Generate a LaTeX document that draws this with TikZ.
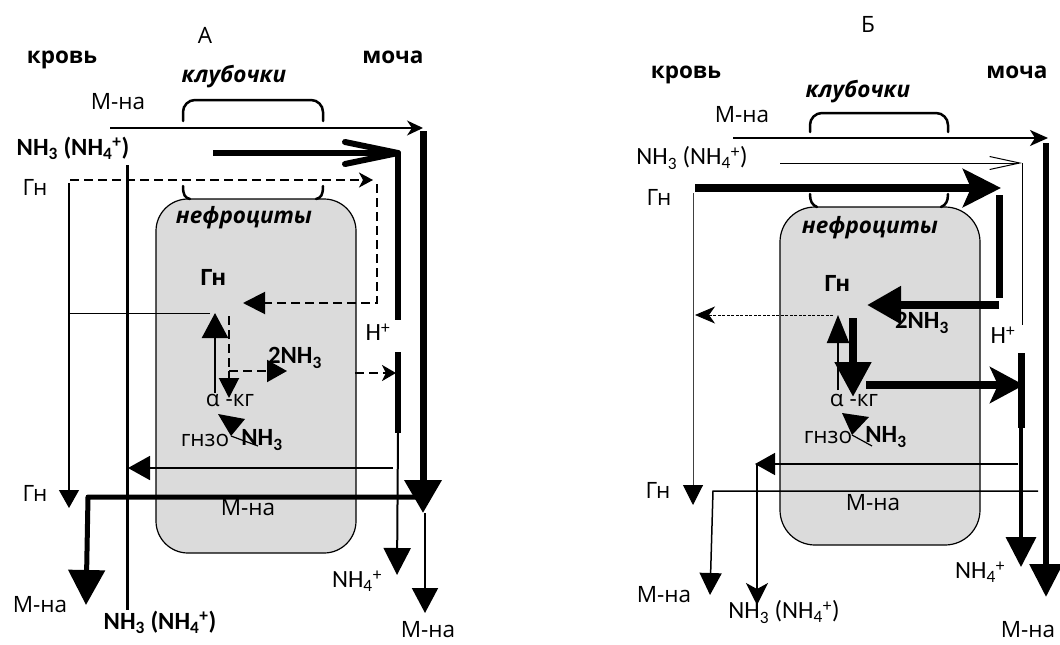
\documentclass[tikz,border=0pt]{standalone}
\usepackage{fontspec}
\setmainfont{Open Sans}
\newfontfamily\nhf[Scale=1.1]{Carlito}
\usetikzlibrary{arrows.meta}
\newcommand{\NHt}{{\nhf NH\textsubscript{3}}}
\newcommand{\NHf}{{\nhf NH\textsubscript{4}\textsuperscript{+}}}
\newcommand{\nhlabel}{{\nhf NH\textsubscript{3} (NH\textsubscript{4}\textsuperscript{+})}}
\begin{document}
\begin{tikzpicture}[x=1pt,y=-1pt,
  lbl/.style={inner sep=0pt, font=\fontsize{22.5}{26}\selectfont},
  blbl/.style={inner sep=0pt, font=\fontsize{22.5}{26}\selectfont\bfseries},
  bilbl/.style={inner sep=0pt, font=\fontsize{22.5}{26}\selectfont\bfseries\itshape},
  cell/.style={draw, line width=1.2pt, fill=black!14, rounded corners=32pt},
  brk/.style={line width=2.5pt, line cap=round},
  dsh/.style={dash pattern=on 9pt off 5pt, line width=2pt},
]
\useasboundingbox (0,0) rectangle (1060,645);
% ================= A =================
\node[cell, minimum width=200pt, minimum height=354pt] (boxA) at (256,376) {};
\draw[brk, rounded corners=12pt] (183,121) -- (183,100) -- (323,100) -- (323,121);
\draw[brk] (183,186) .. controls (183,195) and (185,198) .. (190,199);
\draw[brk] (323,186) .. controls (323,195) and (321,198) .. (316,199);
\node[lbl] (A) at (205,35) {А};
\node[blbl] (krovA) at (62,60) {кровь};
\node[blbl] (mochaA) at (393,57) {моча};
\node[bilbl] (klubA) at (234,77) {клубочки};
\node[lbl] (mnaA1) at (118,102) {М-на};
\node[blbl] (nhA1) at (73,148) {\nhlabel};
\node[lbl] (gnA1) at (35,187) {Гн};
\node[bilbl] (nefA) at (244,218) {нефроциты};
\node[blbl] (gnA2) at (213,277) {Гн};
\node[lbl] (hA) at (378,332) {{\nhf H\textsuperscript{+}}};
\node[blbl] (nh2A) at (295,358) {{\nhf 2NH\textsubscript{3}}};
\node[lbl] (akgA) at (230,400) {α -кг};
\node[lbl] (gnzoA) at (205,440) {гнзо};
\node[blbl] (nh3A) at (262,440) {\NHt};
\node[lbl] (gnA3) at (35,493) {Гн};
\node[lbl] (mnaA2) at (248,508) {М-на};
\node[lbl] (nh4A) at (357,581) {\NHf};
\node[lbl] (mnaA3) at (40,605) {М-на};
\node[blbl] (nhA2) at (160,622) {\nhlabel};
\node[lbl] (mnaA4) at (428,630) {М-на};
% coordinates A
\coordinate (a1) at (110,128); \coordinate (a2) at (423,128);
\coordinate (a3) at (423,131); \coordinate (a4) at (423,513);
\coordinate (a5) at (425,513); \coordinate (a6) at (425,613);
\coordinate (a7) at (425,497); \coordinate (a8) at (88,497); \coordinate (a9) at (86,605);
\coordinate (b1) at (213,153); \coordinate (b2) at (398,153); \coordinate (b3) at (398,320);
\coordinate (b4) at (398,352); \coordinate (b5) at (398,433); \coordinate (b6) at (397,575);
\coordinate (b7) at (393,468); \coordinate (b8) at (128,468);
\coordinate (c1) at (127,165); \coordinate (c2) at (127,610);
\coordinate (d1) at (70,180); \coordinate (d2) at (373,180);
\coordinate (d3) at (377,184); \coordinate (d4) at (377,303); \coordinate (d5) at (243,303);
\coordinate (e1) at (69,183); \coordinate (e2) at (69,508);
\coordinate (e3) at (70,313); \coordinate (e4) at (210,313);
\coordinate (f1) at (215,393); \coordinate (f2) at (215,313);
\coordinate (g1) at (229,316); \coordinate (g2) at (229,371); \coordinate (g3) at (287,371); \coordinate (g4) at (229,398);
\coordinate (h1) at (355,373); \coordinate (h2) at (396,373);
\coordinate (t1) at (218,414); \coordinate (t2) at (245,419); \coordinate (t3) at (231,436); \coordinate (t4) at (258,446);
% arrows A
\draw[line width=1.8pt, -{Stealth[length=16pt,width=15pt,inset=5pt]}] (a1) -- (a2);
\draw[line width=7pt, -{Triangle[length=33pt,width=36pt]}] (a3) -- (a4);
\draw[line width=2pt, -{Triangle[length=25pt,width=26pt]}] (a5) -- (a6);
\draw[line width=5pt, line join=round, -{Triangle[length=35pt,width=36pt]}] (a7) -- (a8) -- (a9);
\draw[line width=6pt, line join=round] (b1) -- (b2) -- (b3);
\draw[line width=6pt, line cap=round, line join=round] (345,142) -- (b2) -- (345,164);
\draw[line width=6pt] (b4) -- (b5);
\draw[line width=2pt, -{Triangle[length=27pt,width=27pt]}] (b5) -- (b6);
\draw[line width=1.8pt, -{Triangle[length=22pt,width=24pt]}] (b7) -- (b8);
\draw[line width=3pt] (c1) -- (c2);
\draw[dsh, -{Stealth[length=14pt,width=15pt,inset=4pt]}] (d1) -- (d2);
\draw[dsh, -{Triangle[length=22pt,width=22pt]}] (d3) -- (d4) -- (d5);
\draw[line width=1.2pt, -{Triangle[length=18pt,width=20pt]}] (e1) -- (e2);
\draw[line width=1pt] (e3) -- (e4);
\draw[line width=2.5pt, -{Triangle[length=25pt,width=26pt]}] (f1) -- (f2);
\draw[dsh] (g1) -- (g2);
\draw[dsh, -{Triangle[length=20pt,width=22pt]}] (g2) -- (g3);
\draw[dsh, -{Triangle[length=20pt,width=20pt]}] (g2) -- (g4);
\draw[dsh, line width=2.5pt, -{Stealth[length=14pt,width=16pt,inset=4pt]}] (h1) -- (h2);
\fill (t1) -- (t2) -- (t3) -- cycle;
\draw[line width=1.2pt] (t3) -- (t4);
% ================= Б =================
\node[cell, minimum width=200pt, minimum height=338pt, rounded corners=35pt] (boxB) at (880,376) {};
\draw[brk, rounded corners=12pt] (810,132) -- (810,113) -- (948,113) -- (948,132);
\draw[brk] (810,194) .. controls (810,201) and (812,205) .. (817,207);
\draw[brk] (948,194) .. controls (948,201) and (946,205) .. (941,207);
\node[lbl] (B) at (868,24) {Б};
\node[blbl] (krovB) at (686,75) {кровь};
\node[blbl] (mochaB) at (1017,72) {моча};
\node[bilbl] (klubB) at (858,92) {клубочки};
\node[lbl] (mnaB1) at (742,115) {М-на};
\node[lbl] (nhB1) at (692,158) {\nhlabel};
\node[lbl] (gnB1) at (659,197) {Гн};
\node[bilbl] (nefB) at (870,228) {нефроциты};
\node[blbl] (gnB2) at (837,283) {Гн};
\node[blbl] (nh2B) at (922,323) {{\nhf 2NH\textsubscript{3}}};
\node[lbl] (hB) at (1003,335) {{\nhf H\textsuperscript{+}}};
\node[lbl] (akgB) at (854,400) {α -кг};
\node[lbl] (gnzoB) at (828,437) {гнзо};
\node[blbl] (nh3B) at (886,437) {\NHt};
\node[lbl] (gnB3) at (658,490) {Гн};
\node[lbl] (mnaB2) at (873,503) {М-на};
\node[lbl] (nh4B) at (980,572) {\NHf};
\node[lbl] (mnaB3) at (664,595) {М-на};
\node[lbl] (nhB2) at (784,612) {\nhlabel};
\node[lbl] (mnaB4) at (1028,630) {М-на};
% coordinates Б
\coordinate (p1) at (733,138); \coordinate (p2) at (1048,138);
\coordinate (p3) at (1046,143); \coordinate (p4) at (1046,597);
\coordinate (q1) at (780,163); \coordinate (q2) at (1022,163); \coordinate (q3) at (1022,325);
\coordinate (r1) at (695,188); \coordinate (r2) at (1001,188);
\coordinate (r3) at (999,195); \coordinate (r4) at (999,298);
\coordinate (s1) at (693,193); \coordinate (s2) at (693,505);
\coordinate (u1) at (999,305); \coordinate (u2) at (867,305);
\coordinate (v1) at (833,315); \coordinate (v2) at (695,315);
\coordinate (w1) at (838,390); \coordinate (w2) at (838,315);
\coordinate (w3) at (853,318); \coordinate (w4) at (853,397);
\coordinate (x1) at (866,385); \coordinate (x2) at (1024,385);
\coordinate (y1) at (1021,353); \coordinate (y2) at (1021,428); \coordinate (y3) at (1021,567);
\coordinate (z1) at (1018,464); \coordinate (z2) at (755,464);
\coordinate (z3) at (757,464); \coordinate (z4) at (757,605);
\coordinate (m1) at (1038,491); \coordinate (m2) at (713,491); \coordinate (m3) at (710,595);
\coordinate (k1) at (842,413); \coordinate (k2) at (869,417); \coordinate (k3) at (852,435); \coordinate (k4) at (872,446);
% arrows Б
\draw[line width=2pt, -{Stealth[length=18pt,width=16pt,inset=5pt]}] (p1) -- (p2);
\draw[line width=6pt, -{Triangle[length=33pt,width=32pt]}] (p3) -- (p4);
\draw[line width=1pt, line join=miter, -{Straight Barb[length=30pt,width=13pt,line width=1pt]}] (q1) -- (q2);
\draw[line width=1pt] (q2) -- (q3);
\draw[line width=8pt, -{Stealth[length=38pt,width=38pt,inset=8pt]}] (r1) -- (r2);
\draw[line width=7pt] (r3) -- (r4);
\draw[line width=1pt, black!75, -{Triangle[length=20pt,width=20pt,black]}] (s1) -- (s2);
\draw[line width=8pt, -{Triangle[length=34pt,width=36pt]}] (u1) -- (u2);
\draw[line width=0.8pt, dash pattern=on 3pt off 1.5pt, -{Stealth[length=20pt,width=17pt,inset=6pt]}] (v1) -- (v2);
\draw[line width=2pt, -{Triangle[length=28pt,width=22pt]}] (w1) -- (w2);
\draw[line width=8pt, -{Triangle[length=35pt,width=35pt]}] (w3) -- (w4);
\draw[line width=8pt, -{Stealth[length=34pt,width=36pt,inset=8pt]}] (x1) -- (x2);
\draw[line width=7pt] (y1) -- (y2);
\draw[line width=3.5pt, -{Triangle[length=30pt,width=30pt]}] (y2) -- (y3);
\draw[line width=1.5pt, -{Triangle[length=20pt,width=22pt]}] (z1) -- (z2);
\draw[line width=1.5pt, -{Stealth[length=22pt,width=22pt,inset=6pt]}] (z3) -- (z4);
\draw[line width=1.5pt, -{Triangle[length=22pt,width=22pt]}] (m1) -- (m2) -- (m3);
\fill (k1) -- (k2) -- (k3) -- cycle;
\draw[line width=1.2pt] (k3) -- (k4);
\end{tikzpicture}
\end{document}
